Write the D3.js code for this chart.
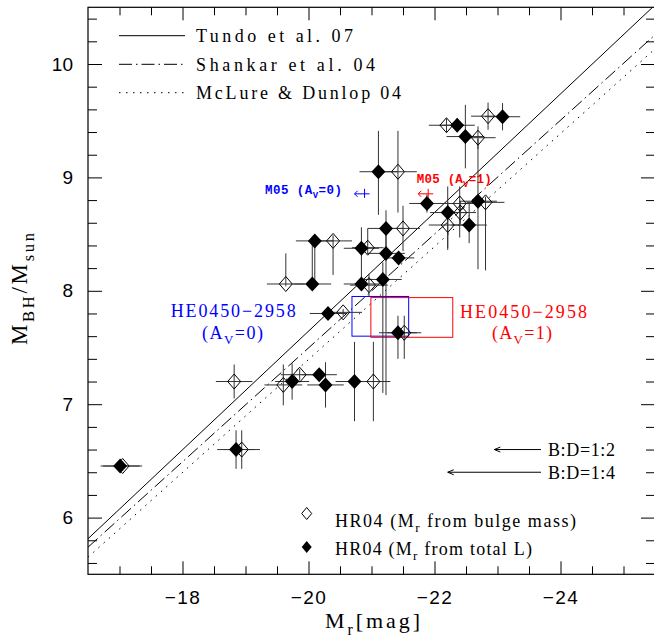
<!DOCTYPE html>
<html>
<head>
<meta charset="utf-8">
<script src="https://cdn.jsdelivr.net/npm/d3@7"></script>
<style>
  body { margin: 0; background: #fff; }
  text { font-family: "Liberation Serif", "Times New Roman", serif; fill: #000; }
  .tick text { font-family: "Liberation Sans", Arial, sans-serif; }
</style>
</head>
<body>
<svg id="chart" width="654" height="641"></svg>
<script>
// HR04 points, Mr from bulge mass: [Mr, logM, xErr, yErrLo, yErrHi]
var bulgePts = [
  [-17.05, 6.455, 0.31, 0.04, 0.04],
  [-18.82, 7.20, 0.29, 0.15, 0.15],
  [-18.94, 6.60, 0.29, 0.17, 0.17],
  [-19.60, 7.17, 0.30, 0.18, 0.18],
  [-19.86, 7.26, 0.30, 0.05, 0.05],
  [-21.03, 7.20, 0.27, 0.35, 0.35],
  [-19.64, 8.06, 0.30, 0.02, 0.27],
  [-20.39, 8.44, 0.30, 0.30, 0.05],
  [-20.55, 7.81, 0.30, 0.03, 0.03],
  [-20.96, 8.05, 0.30, 0.10, 0.10],
  [-20.94, 8.38, 0.25, 0.05, 0.17],
  [-21.50, 8.55, 0.27, 0.20, 0.20],
  [-21.42, 9.05, 0.30, 0.36, 0.36],
  [-21.52, 7.63, 0.27, 0.23, 0.15],
  [-22.40, 8.77, 0.25, 0.30, 0.15],
  [-22.41, 8.69, 0.25, 0.10, 0.10],
  [-22.21, 8.58, 0.30, 0.20, 0.20],
  [-22.81, 8.78, 0.30, 0.60, 0.05],
  [-22.85, 9.54, 0.27, 0.12, 0.12],
  [-22.19, 9.46, 0.28, 0.06, 0.06],
  [-22.69, 9.35, 0.28, 0.10, 0.10]
];
// HR04 points, Mr from total L
var totalPts = [
  [-17.01, 6.455, 0.31, 0.04, 0.04],
  [-18.85, 6.60, 0.30, 0.17, 0.17],
  [-19.74, 7.20, 0.27, 0.16, 0.16],
  [-20.17, 7.26, 0.28, 0.03, 0.03],
  [-20.27, 7.17, 0.29, 0.20, 0.20],
  [-20.73, 7.20, 0.30, 0.35, 0.35],
  [-20.06, 8.06, 0.30, 0.03, 0.38],
  [-20.10, 8.44, 0.30, 0.38, 0.03],
  [-20.31, 7.80, 0.29, 0.03, 0.03],
  [-20.84, 8.06, 0.28, 0.05, 0.50],
  [-20.84, 8.375, 0.28, 0.05, 0.05],
  [-21.18, 8.10, 0.30, 1.00, 0.15],
  [-21.23, 8.55, 0.29, 0.20, 0.16],
  [-21.23, 8.33, 0.30, 1.25, 0.20],
  [-21.43, 8.29, 0.25, 0.05, 0.05],
  [-21.11, 9.05, 0.30, 0.38, 0.36],
  [-21.42, 7.63, 0.30, 0.23, 0.15],
  [-21.88, 8.77, 0.28, 0.08, 0.08],
  [-22.21, 8.69, 0.28, 0.33, 0.23],
  [-22.55, 8.58, 0.28, 0.16, 0.20],
  [-22.69, 8.79, 0.30, 0.60, 0.55],
  [-23.08, 9.535, 0.28, 0.12, 0.12],
  [-22.36, 9.46, 0.28, 0.06, 0.06],
  [-22.49, 9.36, 0.30, 0.28, 0.28]
];

// relations: logM = a + b*(Mr + 22)
var relNames = ["Tundo et al. 07", "Shankar et al. 04", "McLure & Dunlop 04"];
var relA = [8.69, 8.50, 8.39];
var relB = [-0.523, -0.502, -0.498];
var relDash = [null, "13,4,1.5,4", "1.5,5.5"];

// HE0450-2958 boxes [MrBright, MrFaint, logLo, logHi]
var heBoxes = [[-20.69, -21.59, 7.60, 7.95], [-20.99, -22.29, 7.59, 7.94]];
var heColors = ["#0000ff", "#ff0000"];
// M05 limits [Mr, logM]
var m05 = [[-20.89, 8.855], [-21.90, 8.855]];
// bulge:disk arrows [MrStart, MrEnd, logM, label]
var bdArrows = [[-23.69, -22.95, 6.60, "B:D=1:2"], [-23.69, -22.21, 6.40, "B:D=1:4"]];

var xMajor = [-18, -20, -22, -24];
var yMajor = [6, 7, 8, 9, 10];

var svg = d3.select("#chart");
var L = 88, R = 655, T = 7.3, B = 574.3;
var x = d3.scaleLinear().domain([-16.5, -25.5]).range([L, R]);
var y = d3.scaleLinear().domain([5.5, 10.5]).range([B, T]);

var xMinor = d3.range(-17, -25.6, -0.5).filter(v => xMajor.indexOf(v) < 0);
var yMinor = d3.range(5.6, 10.5, 0.2).map(v => +v.toFixed(1)).filter(v => yMajor.indexOf(v) < 0);

svg.append("defs").append("clipPath").attr("id", "clip")
  .append("rect").attr("x", L).attr("y", T).attr("width", R - L).attr("height", B - T);

// axes
function axis(gen, tr, vals, size, labels, pad) {
  var g = svg.append("g").attr("transform", tr)
    .call(gen.tickValues(vals).tickSize(size).tickPadding(pad || 3)
      .tickFormat(labels ? d3.format("d") : ""));
  g.select(".domain").remove();
  g.selectAll(".tick line").attr("stroke", "#000");
  return g;
}
axis(d3.axisBottom(x), "translate(0," + B + ")", xMinor, -8, false);
axis(d3.axisBottom(x), "translate(0," + B + ")", xMajor, -13, true, 16)
  .selectAll("text").attr("font-size", 19).attr("letter-spacing", 1.5);
axis(d3.axisTop(x), "translate(0," + T + ")", xMinor, -8, false);
axis(d3.axisTop(x), "translate(0," + T + ")", xMajor, -13, false);
axis(d3.axisLeft(y), "translate(" + L + ",0)", yMinor, -9, false);
axis(d3.axisLeft(y), "translate(" + L + ",0)", yMajor, -14, true, 15)
  .selectAll("text").attr("font-size", 19);
axis(d3.axisRight(y), "translate(" + R + ",0)", yMinor, -9, false);
axis(d3.axisRight(y), "translate(" + R + ",0)", yMajor, -14, false);

svg.append("rect").attr("x", L).attr("y", T).attr("width", R - L).attr("height", B - T)
  .attr("fill", "none").attr("stroke", "#000").attr("stroke-width", 1.2);

var plot = svg.append("g").attr("clip-path", "url(#clip)");

// relations
relNames.forEach(function (n, i) {
  var dom = x.domain();
  plot.append("line")
    .attr("x1", x(dom[0])).attr("y1", y(relA[i] + relB[i] * (dom[0] + 22)))
    .attr("x2", x(dom[1])).attr("y2", y(relA[i] + relB[i] * (dom[1] + 22)))
    .attr("stroke", "#000").attr("stroke-width", 1)
    .attr("stroke-dasharray", relDash[i]);
});

// HE boxes
heBoxes.forEach(function (b, i) {
  plot.append("rect")
    .attr("x", x(b[0])).attr("y", y(b[3]))
    .attr("width", x(b[1]) - x(b[0])).attr("height", y(b[2]) - y(b[3]))
    .attr("fill", "none").attr("stroke", heColors[i]).attr("stroke-width", 1);
});

// error bars
var allPts = bulgePts.concat(totalPts);
var eb = plot.append("g").attr("stroke", "#333").attr("stroke-width", 1);
eb.selectAll("line.h").data(allPts).join("line")
  .attr("x1", d => x(d[0] + d[2])).attr("x2", d => x(d[0] - d[2]))
  .attr("y1", d => y(d[1])).attr("y2", d => y(d[1]));
eb.selectAll("line.v").data(allPts).join("line")
  .attr("x1", d => x(d[0])).attr("x2", d => x(d[0]))
  .attr("y1", d => y(d[1] - d[3])).attr("y2", d => y(d[1] + d[4]));

function diamond(cx, cy, w, h) {
  return "M" + cx + "," + (cy - h) + "L" + (cx + w) + "," + cy + "L" + cx + "," + (cy + h) + "L" + (cx - w) + "," + cy + "Z";
}
plot.selectAll("path.open").data(bulgePts).join("path")
  .attr("d", d => diamond(x(d[0]), y(d[1]), 6.5, 7.5))
  .attr("fill", "none").attr("stroke", "#000").attr("stroke-width", 1);
plot.selectAll("path.fill").data(totalPts).join("path")
  .attr("d", d => diamond(x(d[0]), y(d[1]), 7, 7.5))
  .attr("fill", "#000");

// M05 markers (left arrows)
m05.forEach(function (m, i) {
  var cx = x(m[0]), cy = y(m[1]), c = heColors[i];
  var g = plot.append("g").attr("stroke", c).attr("stroke-width", 1).attr("fill", "none");
  g.append("line").attr("x1", cx - 10).attr("x2", cx + 5).attr("y1", cy).attr("y2", cy);
  g.append("line").attr("x1", cx).attr("x2", cx).attr("y1", cy - 5).attr("y2", cy + 4);
  g.append("path").attr("d", "M" + (cx - 7) + "," + (cy - 3) + "L" + (cx - 10) + "," + cy + "L" + (cx - 7) + "," + (cy + 3));
});

// B:D arrows
bdArrows.forEach(function (a) {
  var x0 = x(a[0]), x1 = x(a[1]), yy = y(a[2]);
  var g = svg.append("g").attr("stroke", "#000").attr("stroke-width", 1).attr("fill", "none");
  g.append("line").attr("x1", x0).attr("x2", x1).attr("y1", yy).attr("y2", yy);
  g.append("path").attr("d", "M" + (x1 + 6) + "," + (yy - 2.5) + "L" + x1 + "," + yy + "L" + (x1 + 6) + "," + (yy + 2.5));
  svg.append("text").attr("x", x0 + 7).attr("y", yy + 6.5).attr("font-size", 18)
    .attr("textLength", 67).attr("lengthAdjust", "spacing").text(a[3]);
});

// rich text helper: parts = [[str, isSub], ...]
function rich(px, py, parts, size, len, color, extra) {
  var t = svg.append("text").attr("x", px).attr("y", py).attr("font-size", size)
    .style("fill", color || "#000");
  if (len) t.attr("textLength", len).attr("lengthAdjust", "spacing");
  if (extra) extra(t);
  var shifted = false;
  parts.forEach(function (p) {
    var s = t.append("tspan").text(p[0]);
    if (p[1] && !shifted) { s.attr("dy", size * 0.3).attr("font-size", size * 0.72); shifted = true; }
    else if (p[1]) { s.attr("font-size", size * 0.72); }
    else if (shifted) { s.attr("dy", -size * 0.3); shifted = false; }
  });
  return t;
}

// top legend
relNames.forEach(function (n, i) {
  var yy = [35.7, 64.3, 92.7][i];
  svg.append("line").attr("x1", 119).attr("x2", 185).attr("y1", yy).attr("y2", yy)
    .attr("stroke", "#000").attr("stroke-width", 1).attr("stroke-dasharray", relDash[i]);
  rich(196, yy + 6.5, [[n]], 18, [157, 179, 205][i]);
});

// M05 labels
var mono = function (t) { t.style("font-family", "'Liberation Mono', 'Courier New', monospace").style("font-weight", "bold"); };
rich(265, 194, [["M05 (A"], ["V", 1], ["=0)"]], 12.5, 77, "#0000ff", mono);
rich(416.7, 183, [["M05 (A"], ["V", 1], ["=1)"]], 12.5, 75, "#ff0000", mono);

// HE labels
rich(170.7, 317, [["HE0450\u22122958"]], 18, 125, "#0000ff");
rich(202, 339, [["(A"], ["V", 1], ["=0)"]], 18, 61, "#0000ff");
rich(460, 318, [["HE0450\u22122958"]], 18, 127, "#ff0000");
rich(492, 339, [["(A"], ["V", 1], ["=1)"]], 18, 60, "#ff0000");

// bottom legend
svg.append("path").attr("d", diamond(306.7, 513.5, 5, 6)).attr("fill", "none").attr("stroke", "#000");
svg.append("path").attr("d", diamond(306.7, 547, 5, 6)).attr("fill", "#000");
rich(335, 526.7, [["HR04 (M"], ["r", 1], [" from bulge mass)"]], 18, 241);
rich(335, 555, [["HR04 (M"], ["r", 1], [" from total L)"]], 18, 197);

// axis titles
rich(325, 628, [["M"], ["r", 1], ["[mag]"]], 22, 95);
var yl = rich(0, 0, [["M"], ["BH", 1], ["/M"], ["sun", 1]], 23, 112);
yl.attr("transform", "translate(27,345) rotate(-90)");
</script>
</body>
</html>
